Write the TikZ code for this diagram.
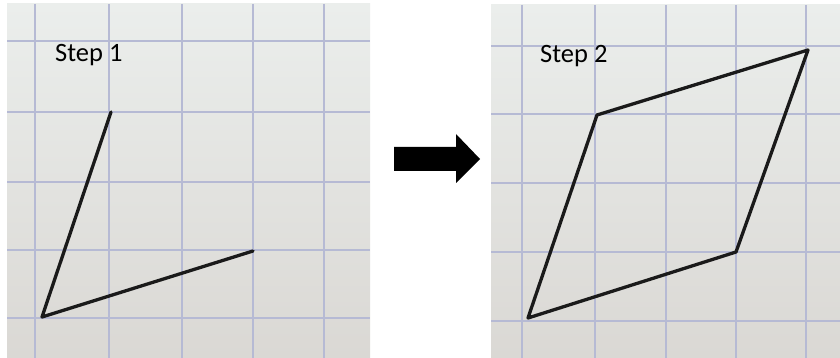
\documentclass[tikz,border=0pt]{standalone}
\usepackage{fontspec}
\setmainfont{Carlito}
\begin{document}
\begin{tikzpicture}[x=1pt,y=-1pt,
  paper/.style={top color=paperTop,bottom color=paperBot,draw=none},
  gridline/.style={draw=gridBlue,line width=1.1pt},
  pen/.style={draw=penBlack,line width=3.3pt,line cap=round,line join=round},
  steplabel/.style={anchor=base west,inner sep=0pt,font=\fontsize{26.5}{30}\selectfont,text=black},
  bigarrow/.style={fill=black,draw=none}]
\definecolor{paperTop}{HTML}{EBEEEC}
\definecolor{paperBot}{HTML}{DAD8D4}
\definecolor{gridBlue}{HTML}{B6BAD4}
\definecolor{penBlack}{HTML}{1A1A1A}
\useasboundingbox (0,0) rectangle (840,358);
\fill[white] (0,0) rectangle (840,358);
% left panel
\fill[paper] (7,4) rectangle (370,358);
\foreach \x in {35,109,182,253,324} \draw[gridline] (\x,4) -- (\x,358);
\foreach \y in {41,112,182,250,318} \draw[gridline] (7,\y) -- (370,\y);
% right panel
\fill[paper] (491,5) rectangle (840,358);
\foreach \x in {522,595,666,736,806} \draw[gridline] (\x,5) -- (\x,358);
\foreach \y in {46,114,183,252,321} \draw[gridline] (491,\y) -- (840,\y);
% step 1
\node[steplabel] (s1) at (55,62) {Step 1};
\coordinate (a0) at (42,317);
\coordinate (a1) at (111,112);
\coordinate (a2) at (253,251);
\draw[pen] (a1) -- (a0) -- (a2);
% step 2
\node[steplabel] (s2) at (540,63) {Step 2};
\coordinate (b0) at (528,318);
\coordinate (b1) at (597,115);
\coordinate (b2) at (808,50);
\coordinate (b3) at (736,252);
\draw[pen] (b0) -- (b1) -- (b2) -- (b3) -- cycle;
% arrow
\fill[bigarrow] (394,147) -- (456,147) -- (456,134) -- (480,159) -- (456,183) -- (456,171) -- (394,171) -- cycle;
\end{tikzpicture}
\end{document}
